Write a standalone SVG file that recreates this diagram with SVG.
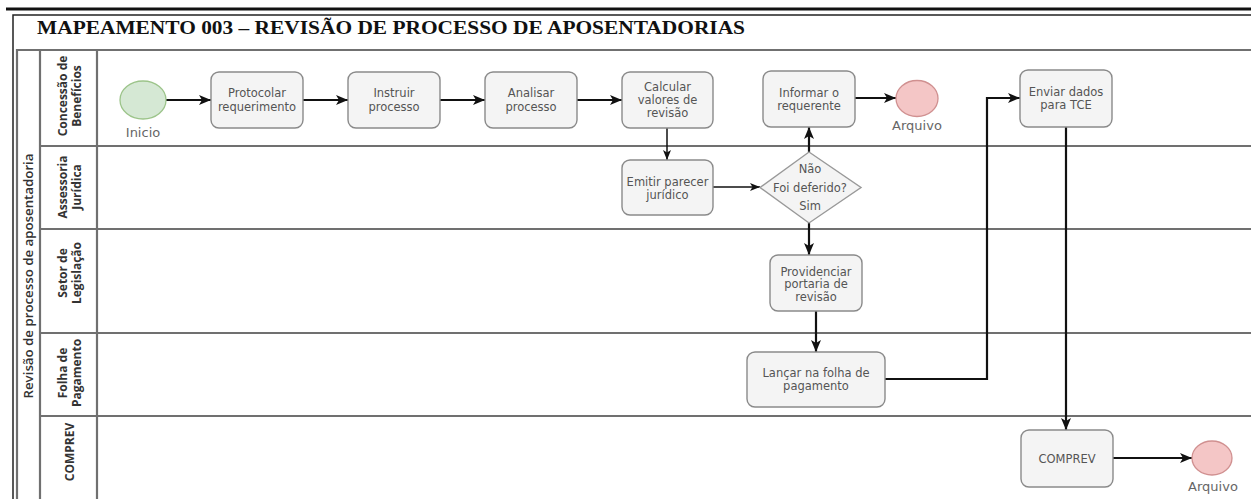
<svg xmlns="http://www.w3.org/2000/svg" width="1251" height="499" viewBox="0 0 1251 499">
<style>
.node{fill:#f4f4f4;stroke:#8a8a8a;stroke-width:1.4}
.nt{font-family:"DejaVu Sans",sans-serif;font-size:11.5px;fill:#555;text-anchor:middle}
.lbl{font-family:"DejaVu Sans",sans-serif;font-size:13px;fill:#666;text-anchor:middle}
.lane{fill:none;stroke:#707070;stroke-width:2.2}
.ln{font-family:"Open Sans","DejaVu Sans",sans-serif;font-size:12px;font-weight:bold;fill:#333;text-anchor:middle}
.pl{font-family:"Open Sans","DejaVu Sans",sans-serif;font-size:12.5px;font-weight:600;fill:#333;text-anchor:middle}
.edge{fill:none;stroke:#111;stroke-width:2.2}
.edge2{fill:none;stroke:#111;stroke-width:1.5}
</style>
<defs>
<marker id="ah" markerUnits="userSpaceOnUse" markerWidth="14" markerHeight="12" refX="12" refY="5" orient="auto">
<path d="M0,0 L12,5 L0,10 L3,5 Z" fill="#111"/>
</marker>
<marker id="ah2" markerUnits="userSpaceOnUse" markerWidth="12" markerHeight="10" refX="10" refY="4" orient="auto">
<path d="M0,0 L10,4 L0,8 L2.5,4 Z" fill="#111"/>
</marker>
</defs>
<rect width="1251" height="499" fill="#fff"/>
<g id="frame">
<line x1="6" y1="9" x2="1251" y2="9" stroke="#111" stroke-width="3"/>
<polyline points="13,499 13,15 1251,15" fill="none" stroke="#222" stroke-width="1.5"/>
<text x="37" y="34" font-family="Liberation Serif,serif" font-weight="bold" font-size="18" fill="#111" textLength="708" lengthAdjust="spacingAndGlyphs">MAPEAMENTO 003 – REVISÃO DE PROCESSO DE APOSENTADORIAS</text>
</g>
<g id="pool">
<polyline class="lane" points="17,505 17,50 1251,50"/>
<line class="lane" x1="40" y1="50" x2="40" y2="505"/>
<line class="lane" x1="97" y1="50" x2="97" y2="505"/>
<line class="lane" x1="40" y1="146" x2="1251" y2="146"/>
<line class="lane" x1="40" y1="229" x2="1251" y2="229"/>
<line class="lane" x1="40" y1="333" x2="1251" y2="333"/>
<line class="lane" x1="40" y1="416" x2="1251" y2="416"/>
<text class="pl" transform="translate(29,276) rotate(-90)" x="0" y="4" textLength="245" lengthAdjust="spacingAndGlyphs">Revisão de processo de aposentadoria</text>
</g>
<g id="lane-concessao"><text class="ln" transform="translate(70,96) rotate(-90)"><tspan x="0" y="-3">Concessão de</tspan><tspan x="0" y="11">Benefícios</tspan></text></g>
<g id="lane-assessoria"><text class="ln" transform="translate(70,187) rotate(-90)"><tspan x="0" y="-3">Assessoria</tspan><tspan x="0" y="11">Jurídica</tspan></text></g>
<g id="lane-setor"><text class="ln" transform="translate(70,273) rotate(-90)"><tspan x="0" y="-3">Setor de</tspan><tspan x="0" y="11">Legislação</tspan></text></g>
<g id="lane-folha"><text class="ln" transform="translate(70,373) rotate(-90)"><tspan x="0" y="-3">Folha de</tspan><tspan x="0" y="11">Pagamento</tspan></text></g>
<g id="lane-comprev"><text class="ln" transform="translate(70,452) rotate(-90)" y="4">COMPREV</text></g>

<g id="connectors">
<line class="edge" x1="166" y1="100" x2="211" y2="100" marker-end="url(#ah)"/>
<line class="edge" x1="303" y1="100" x2="348" y2="100" marker-end="url(#ah)"/>
<line class="edge" x1="440" y1="100" x2="485" y2="100" marker-end="url(#ah)"/>
<line class="edge" x1="577" y1="100" x2="622" y2="100" marker-end="url(#ah)"/>
<line class="edge2" x1="667" y1="128" x2="667" y2="160" marker-end="url(#ah2)"/>
<line class="edge2" x1="713" y1="187" x2="760" y2="187" marker-end="url(#ah2)"/>
<line class="edge" x1="809" y1="152" x2="809" y2="127" marker-end="url(#ah)"/>
<line class="edge" x1="855" y1="98" x2="896" y2="98" marker-end="url(#ah)"/>
<line class="edge" x1="809" y1="223" x2="809" y2="255" marker-end="url(#ah)"/>
<line class="edge" x1="816" y1="311" x2="816" y2="352" marker-end="url(#ah)"/>
<polyline class="edge" points="885,379 987,379 987,98 1020,98" marker-end="url(#ah)"/>
<line class="edge" x1="1066" y1="127" x2="1066" y2="430" marker-end="url(#ah)"/>
<line class="edge" x1="1113" y1="458" x2="1192" y2="458" marker-end="url(#ah)"/>
</g>

<g id="inicio">
<ellipse cx="143" cy="100" rx="23" ry="19" fill="#d5e8d4" stroke="#9cc48a" stroke-width="1.3"/>
<text class="lbl" x="143" y="137">Inicio</text>
</g>
<g id="protocolar">
<rect class="node" x="211" y="72" width="92" height="56" rx="8"/>
<text class="nt"><tspan x="257" y="97">Protocolar</tspan><tspan x="257" y="111">requerimento</tspan></text>
</g>
<g id="instruir">
<rect class="node" x="348" y="72" width="92" height="56" rx="8"/>
<text class="nt"><tspan x="394" y="97">Instruir</tspan><tspan x="394" y="111">processo</tspan></text>
</g>
<g id="analisar">
<rect class="node" x="485" y="72" width="92" height="56" rx="8"/>
<text class="nt"><tspan x="531" y="97">Analisar</tspan><tspan x="531" y="111">processo</tspan></text>
</g>
<g id="calcular">
<rect class="node" x="622" y="72" width="91" height="56" rx="8"/>
<text class="nt"><tspan x="667.5" y="91">Calcular</tspan><tspan x="667.5" y="104">valores de</tspan><tspan x="667.5" y="117">revisão</tspan></text>
</g>
<g id="informar">
<rect class="node" x="763" y="71" width="92" height="56" rx="8"/>
<text class="nt"><tspan x="809" y="97">Informar o</tspan><tspan x="809" y="110">requerente</tspan></text>
</g>
<g id="arquivo1">
<ellipse cx="917" cy="98.5" rx="21" ry="18" fill="#f4c6c6" stroke="#d09090" stroke-width="1.3"/>
<text class="lbl" x="917" y="130">Arquivo</text>
</g>
<g id="enviar">
<rect class="node" x="1020" y="70" width="92" height="57" rx="8"/>
<text class="nt"><tspan x="1066" y="96">Enviar dados</tspan><tspan x="1066" y="109">para TCE</tspan></text>
</g>
<g id="emitir">
<rect class="node" x="622" y="160" width="91" height="55" rx="8"/>
<text class="nt"><tspan x="667.5" y="186">Emitir parecer</tspan><tspan x="667.5" y="199">jurídico</tspan></text>
</g>
<g id="deferido">
<polygon points="809,152 861,187.5 809,223 760,187.5" fill="#f4f4f4" stroke="#999" stroke-width="1.4"/>
<text class="nt"><tspan x="810" y="173">Não</tspan><tspan x="810" y="192">Foi deferido?</tspan><tspan x="810" y="210">Sim</tspan></text>
</g>
<g id="providenciar">
<rect class="node" x="770" y="255" width="92" height="56" rx="8"/>
<text class="nt"><tspan x="816" y="276">Providenciar</tspan><tspan x="816" y="288">portaria de</tspan><tspan x="816" y="301">revisão</tspan></text>
</g>
<g id="lancar">
<rect class="node" x="747" y="352" width="138" height="55" rx="8"/>
<text class="nt"><tspan x="816" y="377">Lançar na folha de</tspan><tspan x="816" y="390">pagamento</tspan></text>
</g>
<g id="comprev">
<rect class="node" x="1021" y="430" width="92" height="57" rx="8"/>
<text class="nt" x="1067" y="463">COMPREV</text>
</g>
<g id="arquivo2">
<ellipse cx="1212" cy="458" rx="20" ry="17" fill="#f4c6c6" stroke="#d09090" stroke-width="1.3"/>
<text class="lbl" x="1213" y="491">Arquivo</text>
</g>
</svg>
